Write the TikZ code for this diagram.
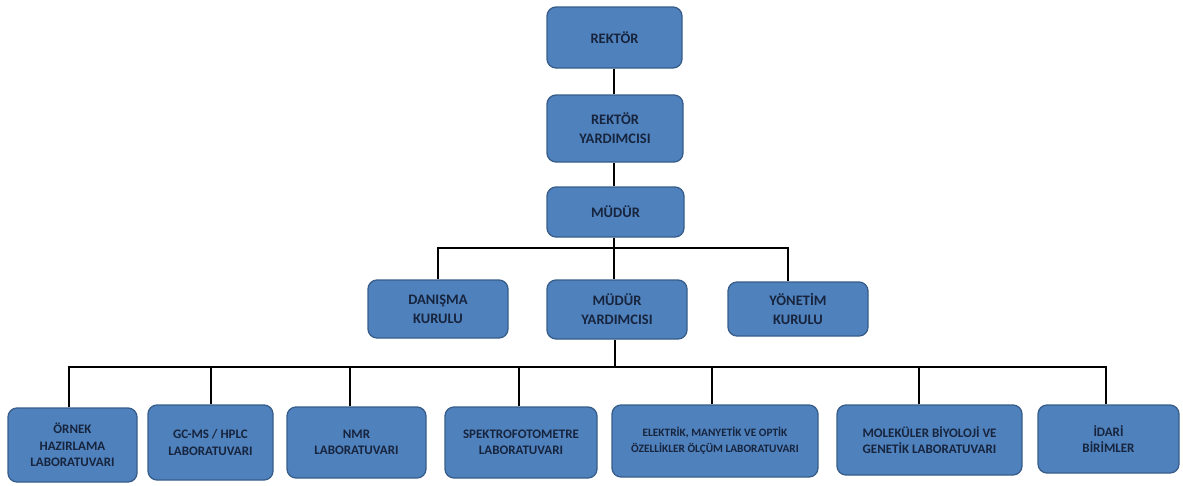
\documentclass[tikz,border=0pt]{standalone}
\usepackage{fontspec}
\setmainfont{Carlito}[BoldFont=Carlito Bold]
\definecolor{boxfill}{HTML}{4F81BD}
\definecolor{boxborder}{HTML}{385D8A}
\definecolor{boxtext}{HTML}{17243D}
\begin{document}
\begin{tikzpicture}[x=1pt,y=1pt,
  box/.style={draw=boxborder, fill=boxfill, rounded corners=9pt, line width=1.3pt,
    align=center, text=boxtext, inner sep=0pt,
    font=\bfseries\fontsize{14.5}{19}\selectfont},
  lowbox/.style={box, font=\bfseries\fontsize{13}{16.5}\selectfont},
  conn/.style={line width=2.8pt, black}]
\useasboundingbox (0,0) rectangle (1183,-485);
% top chain
\node[box, minimum width=135, minimum height=61] (rektor) at (614.5,-37.5) {REKTÖR};
\node[box, minimum width=136, minimum height=67] (ryard) at (615,-128.5) {REKTÖR\\YARDIMCISI};
\node[box, minimum width=137, minimum height=50] (mudur) at (615.5,-212) {MÜDÜR};
% middle level
\node[box, minimum width=140, minimum height=58] (danisma) at (438,-309) {DANIŞMA\\KURULU};
\node[box, minimum width=140, minimum height=59] (myard) at (617,-309.5) {MÜDÜR\\YARDIMCISI};
\node[box, minimum width=140, minimum height=54] (yonetim) at (798,-309) {YÖNETİM\\KURULU};
% bottom level
\node[lowbox, minimum width=129, minimum height=74] (ornek) at (72.5,-445) {ÖRNEK\\HAZIRLAMA\\LABORATUVARI};
\node[lowbox, minimum width=125, minimum height=75] (gcms) at (210.5,-442.5) {GC-MS / HPLC\\LABORATUVARI};
\node[lowbox, minimum width=139, minimum height=71] (nmr) at (356.5,-442.5) {NMR\\LABORATUVARI};
\node[lowbox, minimum width=152, minimum height=71] (spek) at (521,-442.5) {SPEKTROFOTOMETRE\\LABORATUVARI};
\node[box, font=\bfseries\fontsize{11.3}{16}\selectfont, minimum width=206, minimum height=72] (elek) at (715,-441) {ELEKTRİK, MANYETİK VE OPTİK\\ÖZELLİKLER ÖLÇÜM LABORATUVARI};
\node[lowbox, minimum width=185, minimum height=70] (molek) at (929.5,-440) {MOLEKÜLER BİYOLOJİ VE\\GENETİK LABORATUVARI};
\node[lowbox, minimum width=141, minimum height=68] (idari) at (1108.5,-439) {İDARİ\\BİRİMLER};
% buses
\coordinate (topL) at (438,-248);
\coordinate (topR) at (788,-248);
\coordinate (botL) at (69,-367);
\coordinate (botR) at (1106,-367);
% connectors
\draw[conn] (rektor.south -| 614,0) -- (ryard.north -| 614,0);
\draw[conn] (ryard.south -| 614,0) -- (mudur.north -| 614,0);
\draw[conn] (mudur.south -| 614,0) -- (myard.north -| 614,0);
\draw[conn] (danisma.north -| topL) |- (topR) -- (topR |- yonetim.north);
\draw[conn] (myard.south -| 615,0) -- (615,-367);
\draw[conn] (ornek.north -| botL) |- (botR) -- (botR |- idari.north);
\draw[conn] (gcms.north -| 211,0) -- (211,-367);
\draw[conn] (nmr.north -| 350,0) -- (350,-367);
\draw[conn] (spek.north -| 519,0) -- (519,-367);
\draw[conn] (elek.north -| 712,0) -- (712,-367);
\draw[conn] (molek.north -| 919,0) -- (919,-367);
\end{tikzpicture}
\end{document}
